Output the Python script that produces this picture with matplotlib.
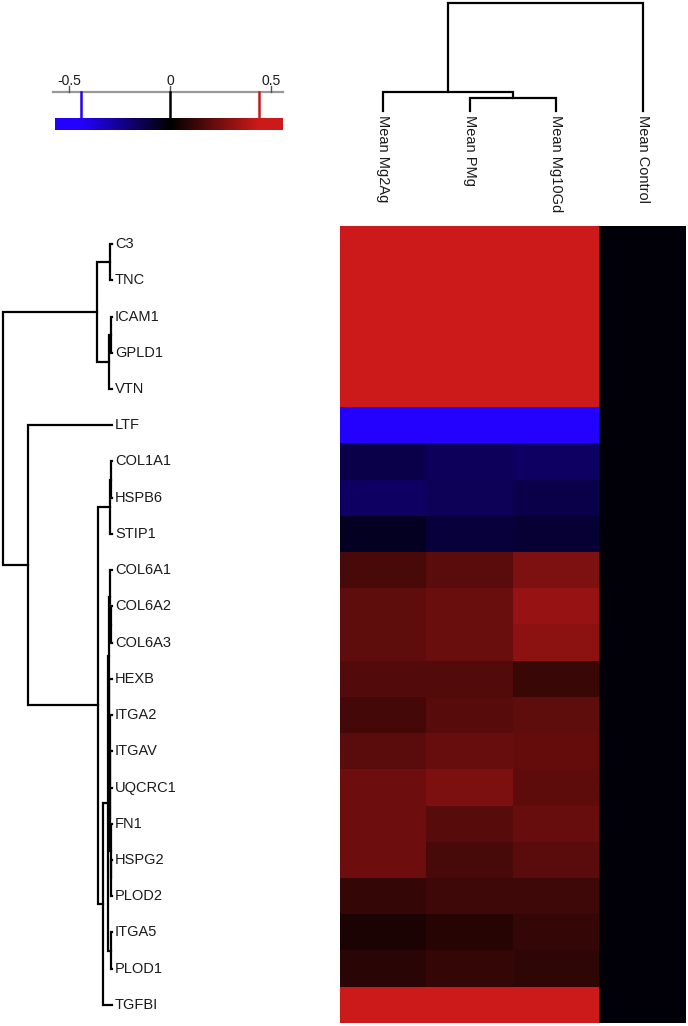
import numpy as np
import matplotlib.pyplot as plt
from matplotlib.colors import LinearSegmentedColormap, Normalize

plt.rcParams['font.family'] = ['Liberation Sans', 'DejaVu Sans']

# row / column order as shown in the clustered heatmap
genes = ['C3', 'TNC', 'ICAM1', 'GPLD1', 'VTN', 'LTF', 'COL1A1', 'HSPB6', 'STIP1',
         'COL6A1', 'COL6A2', 'COL6A3', 'HEXB', 'ITGA2', 'ITGAV', 'UQCRC1', 'FN1',
         'HSPG2', 'PLOD2', 'ITGA5', 'PLOD1', 'TGFBI']
groups = ['Mean Mg2Ag', 'Mean PMg', 'Mean Mg10Gd', 'Mean Control']

mg2ag = [0.62, 0.60, 0.58, 0.60, 0.61, -0.62, -0.125, -0.17, -0.06, 0.155, 0.205,
         0.205, 0.18, 0.15, 0.195, 0.235, 0.235, 0.235, 0.11, 0.06, 0.09, 0.60]
pmg = [0.60, 0.62, 0.59, 0.61, 0.60, -0.60, -0.155, -0.15, -0.10, 0.195, 0.23,
       0.23, 0.18, 0.19, 0.225, 0.265, 0.19, 0.155, 0.135, 0.085, 0.11, 0.61]
mg10gd = [0.61, 0.59, 0.60, 0.62, 0.58, -0.58, -0.17, -0.125, -0.09, 0.27, 0.325,
          0.30, 0.125, 0.205, 0.215, 0.20, 0.225, 0.195, 0.135, 0.11, 0.10, 0.59]
control = [-0.015, -0.015, -0.015, -0.015, -0.015, -0.015, -0.015, -0.015, -0.015,
           -0.015, -0.015, -0.015, -0.015, -0.015, -0.015, -0.015, -0.015, -0.015,
           -0.015, -0.015, -0.015, -0.015]

# dendrograms as nested (left, right, height) tuples, root height = 1
col6 = ('COL6A1', ('COL6A2', 'COL6A3', 0.008), 0.014)
mid = ('HEXB', ('ITGA2', ('ITGAV', ('UQCRC1', ('FN1', ('HSPG2', 'PLOD2', 0.010),
       0.013), 0.016), 0.019), 0.022), 0.025)
big = (((col6, mid, 0.030), ('ITGA5', 'PLOD1', 0.006), 0.037), 'TGFBI', 0.083)
row_tree = ((('C3', 'TNC', 0.018), (('ICAM1', 'GPLD1', 0.012), 'VTN', 0.030), 0.138),
            ('LTF', ((('COL1A1', 'HSPB6', 0.012), 'STIP1', 0.018), big, 0.128), 0.77),
            1.0)
col_tree = (('Mean Mg2Ag', ('Mean PMg', 'Mean Mg10Gd', 0.12), 0.176), 'Mean Control', 1.0)

tick_vals = [-0.5, 0, 0.5]
sat = 0.44

W, H = 688, 1026
cmap = LinearSegmentedColormap.from_list('bkr', ['#2400ff', '#000000', '#cc1a1a'])
norm = Normalize(vmin=-sat, vmax=sat)
txt = '#1a1a1a'


def px_rect(x0, y0, x1, y1):
    return [x0 / W, 1 - y1 / H, (x1 - x0) / W, (y1 - y0) / H]


def draw_tree(ax, node, pos, vertical=False):
    if isinstance(node, str):
        return pos[node], 0.0
    left, right, h = node
    pl, hl = draw_tree(ax, left, pos, vertical)
    pr, hr = draw_tree(ax, right, pos, vertical)
    hs, ps = [hl, h, h, hr], [pl, pl, pr, pr]
    if vertical:
        ax.plot(ps, hs, color='black', lw=1.6, clip_on=False, solid_joinstyle='miter')
    else:
        ax.plot(hs, ps, color='black', lw=1.6, clip_on=False, solid_joinstyle='miter')
    return (pl + pr) / 2, h


fig = plt.figure(figsize=(W / 100, H / 100), dpi=100)

# heatmap
data = np.array([mg2ag, pmg, mg10gd, control]).T
ax = fig.add_axes(px_rect(340, 226, 686, 1023))
ax.imshow(data, cmap=cmap, norm=norm, aspect='auto', interpolation='nearest',
          extent=(0, len(groups), len(genes), 0))
ax.axis('off')

# row dendrogram + gene labels
axl = fig.add_axes(px_rect(0, 226, 112, 1023))
axl.set_xlim(112 / 109, 0)
axl.set_ylim(len(genes), 0)
axl.axis('off')
row_pos = {g: i + 0.5 for i, g in enumerate(genes)}
draw_tree(axl, row_tree, row_pos)
for g in genes:
    axl.text(-3 / 109, row_pos[g], g, ha='left', va='center', fontsize=10.5,
             color=txt, clip_on=False)

# column dendrogram + group labels
axt = fig.add_axes(px_rect(340, 0, 686, 113))
axt.set_xlim(0, len(groups))
axt.set_ylim(-2 / 108, 111 / 108)
axt.axis('off')
col_pos = {c: j + 0.5 for j, c in enumerate(groups)}
draw_tree(axt, col_tree, col_pos, vertical=True)
for c in groups:
    axt.text(col_pos[c], -4 / 108, c, rotation=270, ha='center', va='top',
             fontsize=10.5, color=txt, clip_on=False)

# colour key
axc = fig.add_axes(px_rect(45, 60, 295, 135))
axc.set_xlim((45 - 170) / 202, (295 - 170) / 202)
axc.set_ylim(135, 60)
axc.axis('off')
lo, hi = (55 - 170) / 202, (283 - 170) / 202
grad = np.linspace(lo, hi, 400).reshape(1, -1)
axc.imshow(grad, cmap=cmap, norm=norm, aspect='auto', interpolation='bilinear',
           extent=(lo, hi, 130, 118))
axc.plot([(53 - 170) / 202, hi], [92, 92], color='#999999', lw=1.6)
for t in tick_vals:
    axc.plot([t, t], [86, 92], color='#555555', lw=1.0)
    axc.text(t, 81, f'{t:g}', ha='center', va='center', fontsize=10, color=txt)
for v in [-sat, 0, sat]:
    axc.plot([v, v], [92, 118], color=cmap(norm(v * 0.97)) if v else 'black', lw=1.8)
axc.set_xlim((45 - 170) / 202, (295 - 170) / 202)
axc.set_ylim(135, 60)

fig.savefig('out.png', dpi=100)
